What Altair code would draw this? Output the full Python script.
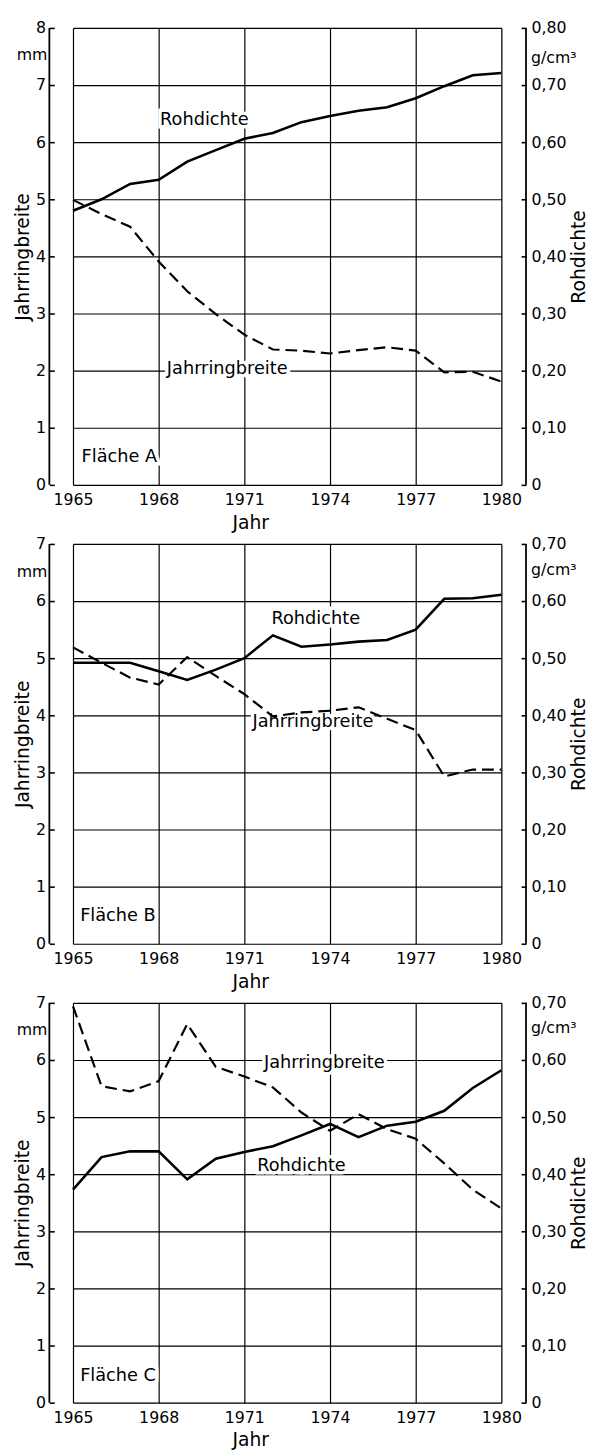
import altair as alt
import pandas as pd

years = list(range(1965, 1981))

# Fläche A
jr_A = [4.99, 4.74, 4.52, 3.91, 3.39, 2.99, 2.63, 2.37, 2.35, 2.30, 2.36, 2.41, 2.35, 1.97, 1.98, 1.81]
rd_A = [0.480, 0.500, 0.527, 0.534, 0.566, 0.586, 0.606, 0.616, 0.635, 0.646, 0.655, 0.661, 0.677, 0.698, 0.717, 0.721]
# Fläche B
jr_B = [5.19, 4.92, 4.66, 4.54, 5.02, 4.69, 4.37, 3.98, 4.05, 4.08, 4.14, 3.94, 3.74, 2.93, 3.05, 3.05]
rd_B = [0.492, 0.492, 0.492, 0.477, 0.462, 0.480, 0.500, 0.540, 0.520, 0.524, 0.529, 0.532, 0.550, 0.604, 0.605, 0.611]
# Fläche C
jr_C = [6.94, 5.54, 5.45, 5.63, 6.63, 5.88, 5.71, 5.52, 5.08, 4.76, 5.05, 4.79, 4.62, 4.19, 3.73, 3.40]
rd_C = [0.373, 0.430, 0.440, 0.440, 0.391, 0.427, 0.439, 0.449, 0.468, 0.488, 0.465, 0.485, 0.492, 0.511, 0.551, 0.582]

x_ticks = [1965, 1968, 1971, 1974, 1977, 1980]

# annotation labels (year, mm-value)
labels_A = {"Rohdichte": (1969.6, 6.38), "Jahrringbreite": (1970.4, 2.02)}
labels_B = {"Rohdichte": (1973.5, 5.68), "Jahrringbreite": (1973.4, 3.88)}
labels_C = {"Jahrringbreite": (1973.8, 5.94), "Rohdichte": (1973.0, 4.14)}
flaeche = {"A": (1965.3, 0.49), "B": (1965.25, 0.49), "C": (1965.25, 0.46)}
unit_mm = {"A": 7.53, "B": 6.5, "C": 6.52}
unit_g = {"A": 7.47, "B": 6.55, "C": 6.55}

FONT = "DejaVu Sans"
W = 435
PX_PER_MM = 58


def panel(key, jr, rd, ymax, labels):
    H = ymax * PX_PER_MM
    df = pd.DataFrame({"Jahr": years, "wert": jr, "dichte": rd})

    x_axis = alt.Axis(values=x_ticks, format="d", title="Jahr", grid=True,
                      gridColor="black", gridWidth=1.2, gridOpacity=1,
                      domain=False, ticks=False, tickSize=0,
                      labelFont=FONT, labelFontSize=16, labelColor="black",
                      labelPadding=7, labelFlush=False,
                      titleFont=FONT, titleFontSize=19, titleFontWeight="normal",
                      titleColor="black", titleX=180, titleY=44,
                      titleAlign="center", titleBaseline="alphabetic")
    x_enc = alt.X("Jahr:Q", scale=alt.Scale(domain=[1965, 1980], nice=False, zero=False),
                  axis=x_axis)

    # left axis: ticks pointing inward toward the plot, axis line drawn separately
    left_axis = alt.Axis(values=list(range(0, ymax + 1)), format="d", grid=True,
                         gridColor="black", gridWidth=1.2, gridOpacity=1,
                         domain=False,
                         tickColor="black", tickWidth=1.6, tickSize=5,
                         offset=19, labelFont=FONT, labelFontSize=16,
                         labelColor="black", labelPadding=4, labelFlush=False,
                         title="Jahrringbreite", titleFont=FONT, titleFontSize=19,
                         titleFontWeight="normal", titleColor="black", titlePadding=3)
    y_left = alt.Y("wert:Q", scale=alt.Scale(domain=[0, ymax], nice=False), axis=left_axis)

    right_axis = alt.Axis(values=[i / 10 for i in range(0, ymax + 1)], orient="right",
                          grid=False, domain=False,
                          tickColor="black", tickWidth=1.6, tickSize=5, offset=20,
                          labelExpr="datum.value == 0 ? '0' : replace(format(datum.value, '.2f'), '.', ',')",
                          labelFont=FONT, labelFontSize=16, labelColor="black",
                          labelPadding=5, labelFlush=False,
                          title="Rohdichte", titleFont=FONT, titleFontSize=19,
                          titleFontWeight="normal", titleColor="black",
                          titleAngle=270, titleBaseline="top", titlePadding=4)
    y_right = alt.Y("dichte:Q", scale=alt.Scale(domain=[0, ymax / 10], nice=False),
                    axis=right_axis)

    jr_line = alt.Chart(df).mark_line(color="black", strokeWidth=2.2,
                                      strokeDash=[12, 6]).encode(x=x_enc, y=y_left)

    ann = pd.DataFrame({
        "Jahr": [v[0] for v in labels.values()],
        "wert": [v[1] for v in labels.values()],
        "text": list(labels.keys()),
    })
    fl = pd.DataFrame({"Jahr": [flaeche[key][0]], "wert": [flaeche[key][1]],
                       "text": [f"Fläche  {key}"]})
    mm = pd.DataFrame({"wert": [unit_mm[key]], "text": ["mm"]})
    gc = pd.DataFrame({"wert": [unit_g[key]], "text": ["g/cm³"]})

    # axis lines of the two offset y axes (thin rects)
    one = pd.DataFrame({"n": [1]})
    axis_left = alt.Chart(one).mark_rect(color="black").encode(
        x=alt.value(-24.9), x2=alt.value(-23.1), y=alt.value(0), y2=alt.value(H))
    axis_right = alt.Chart(one).mark_rect(color="black").encode(
        x=alt.value(W + 24.1), x2=alt.value(W + 25.9), y=alt.value(0), y2=alt.value(H))

    halo = alt.Chart(ann).mark_text(font=FONT, fontSize=18, stroke="white",
                                    strokeWidth=7, fill="white",
                                    baseline="middle").encode(x=x_enc, y=y_left, text="text:N")
    ann_t = alt.Chart(ann).mark_text(font=FONT, fontSize=18, color="black",
                                     baseline="middle").encode(x=x_enc, y=y_left, text="text:N")
    fl_halo = alt.Chart(fl).mark_text(font=FONT, fontSize=18, stroke="white",
                                      strokeWidth=7, fill="white", align="left",
                                      baseline="middle").encode(x=x_enc, y=y_left, text="text:N")
    fl_t = alt.Chart(fl).mark_text(font=FONT, fontSize=18, color="black", align="left",
                                   baseline="middle").encode(x=x_enc, y=y_left, text="text:N")
    mm_t = alt.Chart(mm).mark_text(font=FONT, fontSize=16, color="black", align="right",
                                   baseline="middle").encode(x=alt.value(-26), y=y_left,
                                                             text="text:N")
    gc_t = alt.Chart(gc).mark_text(font=FONT, fontSize=16, color="black", align="left",
                                   baseline="middle").encode(x=alt.value(W + 30), y=y_left,
                                                             text="text:N")

    left = alt.layer(halo, fl_halo, jr_line, ann_t, fl_t, mm_t, gc_t)

    rd_line = alt.Chart(df).mark_line(color="black", strokeWidth=2.6).encode(x=x_enc, y=y_right)
    right = alt.layer(rd_line)

    return alt.layer(left, right, axis_left, axis_right).resolve_scale(
        y="independent").properties(width=W, height=H)


chart = alt.vconcat(
    panel("A", jr_A, rd_A, 8, labels_A),
    panel("B", jr_B, rd_B, 7, labels_B),
    panel("C", jr_C, rd_C, 7, labels_C),
    spacing=2,
).properties(
    padding={"left": 5, "top": 0, "right": 0, "bottom": 0}
).configure_view(
    stroke="black", strokeWidth=2
).configure(
    font=FONT, background="white"
)

chart.save("out.html", embed_options={"renderer": "svg", "actions": False})
